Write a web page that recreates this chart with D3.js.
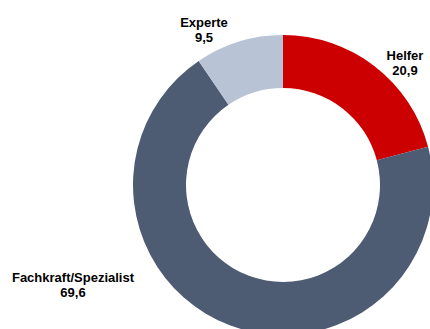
<!DOCTYPE html>
<html>
<head>
<meta charset="utf-8">
<script src="https://cdn.jsdelivr.net/npm/d3@7"></script>
<style>
  body { margin: 0; background: #fff; }
  svg { display: block; }
</style>
</head>
<body>
<div id="chart"></div>
<script>
var categories = ["Helfer", "Fachkraft/Spezialist", "Experte"];
var values = [20.9, 69.6, 9.5];
var colors = ["#cc0000", "#4d5b73", "#b8c4d6"];

// label anchor points (centre x, baseline of first line), like the excel original
var labelPos = [[405, 60], [73, 282], [204, 27]];

var width = 430, height = 329;
var cx = 283, cy = 185;
var outerR = 150, innerR = 97;

var svg = d3.select("#chart").append("svg")
    .attr("width", width)
    .attr("height", height);

var pie = d3.pie().sort(null).value(function(d) { return d; });
var arc = d3.arc().innerRadius(innerR).outerRadius(outerR);

var g = svg.append("g").attr("transform", "translate(" + cx + "," + cy + ")");
g.selectAll("path")
    .data(pie(values))
    .enter().append("path")
    .attr("d", arc)
    .attr("fill", function(d, i) { return colors[i]; });

var fmt = function(v) { return String(v).replace(".", ","); };

var labels = svg.selectAll("text.lbl")
    .data(categories)
    .enter().append("text")
    .attr("class", "lbl")
    .attr("text-anchor", "middle")
    .attr("font-family", "Arial, 'Liberation Sans', sans-serif")
    .attr("font-weight", "bold")
    .attr("font-size", "13px")
    .attr("fill", "#000");

labels.append("tspan")
    .attr("x", function(d, i) { return labelPos[i][0]; })
    .attr("y", function(d, i) { return labelPos[i][1]; })
    .text(function(d) { return d; });
labels.append("tspan")
    .attr("x", function(d, i) { return labelPos[i][0]; })
    .attr("y", function(d, i) { return labelPos[i][1] + 15; })
    .text(function(d, i) { return fmt(values[i]); });
</script>
</body>
</html>
